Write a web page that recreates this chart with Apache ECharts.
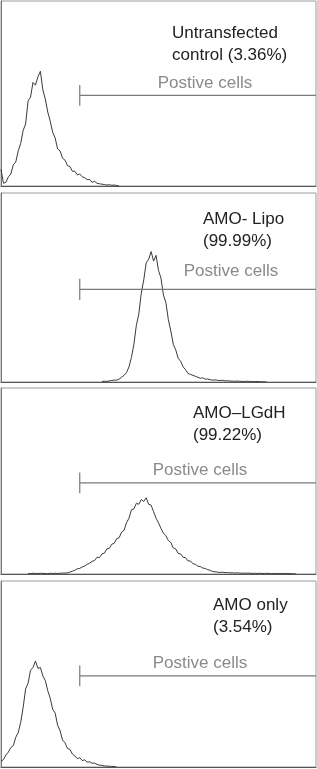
<!DOCTYPE html>
<html><head><meta charset="utf-8">
<script src="https://cdn.jsdelivr.net/npm/echarts@6/dist/echarts.min.js"></script>
<style>html,body{margin:0;padding:0;background:#fff}#c{width:317px;height:769px}</style>
</head><body><div id="c"></div>
<script>
// Panel labels
const panelNames = ["Untransfected\ncontrol (3.36%)", "AMO- Lipo\n(99.99%)", "AMO\u2013LGdH\n(99.22%)", "AMO only\n(3.54%)"];
const gateLabel = "Postive cells";
// Gate start channel for each panel
const gateStart = [256, 256, 256, 256];
// Histogram bins: first channel and bin width
const binStart = [0, 328, 88, 0];
const binWidth = 8;
// Counts (% of max scale) per bin
const untransfected = [9, 1.5, 2, 5, 6.5, 11.5, 13, 19, 23, 30, 33.5, 46, 48, 56, 54.5, 59, 62, 52, 47, 40, 35, 29, 26, 20, 19, 15, 14, 11, 10.5, 8, 8, 6, 6.5, 5, 4.5, 3.5, 3.5, 2, 2.5, 1.5, 1.2, 1, 0.8, 0.5, 0.7, 0.4, 0.5, 0.3, 0];
const amoLipo = [0.3, 0.4, 0.3, 0.6, 0.8, 1, 1, 1.5, 2.5, 3.5, 5, 8, 13, 20, 30, 36, 47, 54, 63, 65, 69, 64, 67, 59, 55, 46, 42, 33, 27, 20, 17, 12.5, 11, 8, 6.5, 4.5, 4, 3.5, 3, 2.5, 2, 2.2, 1.5, 1.6, 1.2, 1, 1.1, 0.9, 0.8, 0.9, 0.6, 0.7, 0.5, 0.5, 0.4, 0.5, 0.4, 0.3, 0.3, 0.4, 0.3, 0.2, 0.2, 0.3, 0.2, 0.1, 0.1, 0];
const amoLGdH = [0.3, 0.2, 0.4, 0.3, 0.2, 0.4, 0.3, 0.3, 0.2, 0.4, 0.3, 0.4, 0.3,
  0.4, 0.5, 0.5, 0.6, 1, 1.5, 2, 2.8, 3, 3.8, 4.3, 5.2, 5.8, 6.8,
  7.2, 9, 8.8, 10.8, 11.2, 13.5, 13.8, 16, 16.5, 19, 19.5, 22.5, 23.5,
  27.5, 30, 34.5, 35, 38, 37.5, 40, 39, 41, 37.5, 37, 33.5,
  30, 27.5, 24.5, 22, 20.5, 18, 17, 14, 13.5, 11, 10.8, 9, 8.8,
  7, 7, 5.5, 5.2, 4.2, 4, 3.2, 3, 2.3, 2, 1.3, 1.2,
  1, 0.8, 1, 0.7, 0.8, 0.6, 0.7, 0.5, 0.6, 0.5, 0.4, 0.5, 0.4, 0.5, 0.3, 0.4, 0.3, 0.4, 0.3, 0.3, 0.4, 0.3, 0.2, 0.3, 0.3, 0.2, 0.3, 0.2, 0.3, 0.2, 0.2, 0.1, 0];
const amoOnly = [3, 4, 6.5, 8, 10.5, 11.5, 16, 18.5, 24, 32, 42, 45, 52, 53.5, 57, 53, 53.5, 49, 46.5, 41, 37, 31, 29, 22.5, 19.5, 14.5, 13, 10, 9.5, 7, 6, 4.5, 5, 3.5, 3.8, 2.6, 2.8, 2, 2.1, 1.4, 1, 0.9, 0.6, 0.5, 0.4, 0.3, 0.3, 0];
const histograms = [untransfected, amoLipo, amoLGdH, amoOnly];

// Layout (pixels)
const panels = [
  {top: 1, height: 185, titleLeft: 172, titleTop: 22, gateTextX: 205, gateTextTop: 73},
  {top: 193, height: 189, titleLeft: 203, titleTop: 208, gateTextX: 231, gateTextTop: 261},
  {top: 388, height: 186, titleLeft: 193, titleTop: 402, gateTextX: 200, gateTextTop: 460},
  {top: 581, height: 186, titleLeft: 213, titleTop: 594, gateTextX: 200, gateTextTop: 653}
];
const gateY = 49, tickHalf = 5.6, chMax = 1024, yMax = 100;

const chart = echarts.init(document.getElementById('c'), null, {renderer: 'canvas'});
const grid = [], xAxis = [], yAxis = [], series = [], title = [];
panels.forEach((p, i) => {
  grid.push({left: 1, right: 1, top: p.top, height: p.height, show: true, borderColor: '#9a9a9a', borderWidth: 1, backgroundColor: '#fff'});
  xAxis.push({type: 'value', gridIndex: i, min: 0, max: chMax, axisLine: {show: true, lineStyle: {color: '#555', width: 1}}, axisTick: {show: false}, axisLabel: {show: false}, splitLine: {show: false}});
  yAxis.push({type: 'value', gridIndex: i, min: 0, max: yMax, axisLine: {show: true, lineStyle: {color: '#777', width: 1}}, axisTick: {show: false}, axisLabel: {show: false}, splitLine: {show: false}});
  const h = histograms[i];
  series.push({type: 'line', xAxisIndex: i, yAxisIndex: i, symbol: 'none', silent: true,
    lineStyle: {color: '#3a3a3a', width: 1}, animation: false,
    data: h.map((v, k) => [binStart[i] + k * binWidth, v])});
  series.push({type: 'line', xAxisIndex: i, yAxisIndex: i, symbol: 'none', silent: true, animation: false,
    lineStyle: {color: '#7a7a7a', width: 1.2},
    data: [[gateStart[i], gateY], [chMax, gateY]]});
  series.push({type: 'line', xAxisIndex: i, yAxisIndex: i, symbol: 'none', silent: true, animation: false,
    lineStyle: {color: '#7a7a7a', width: 1.2},
    data: [[gateStart[i], gateY - tickHalf], [gateStart[i], gateY + tickHalf]]});
  title.push({text: panelNames[i], left: p.titleLeft, top: p.titleTop, padding: 0,
    textStyle: {fontFamily: 'Liberation Sans, Arial, sans-serif', fontSize: 17, fontWeight: 'normal', color: '#222', lineHeight: 22}});
  title.push({text: gateLabel, left: p.gateTextX, top: p.gateTextTop, padding: 0, textAlign: 'center',
    textStyle: {fontFamily: 'Liberation Sans, Arial, sans-serif', fontSize: 17, fontWeight: 'normal', color: '#8a8a8a', lineHeight: 20}});
});
chart.setOption({animation: false, backgroundColor: '#fff', title, grid, xAxis, yAxis, series});
</script></body></html>
